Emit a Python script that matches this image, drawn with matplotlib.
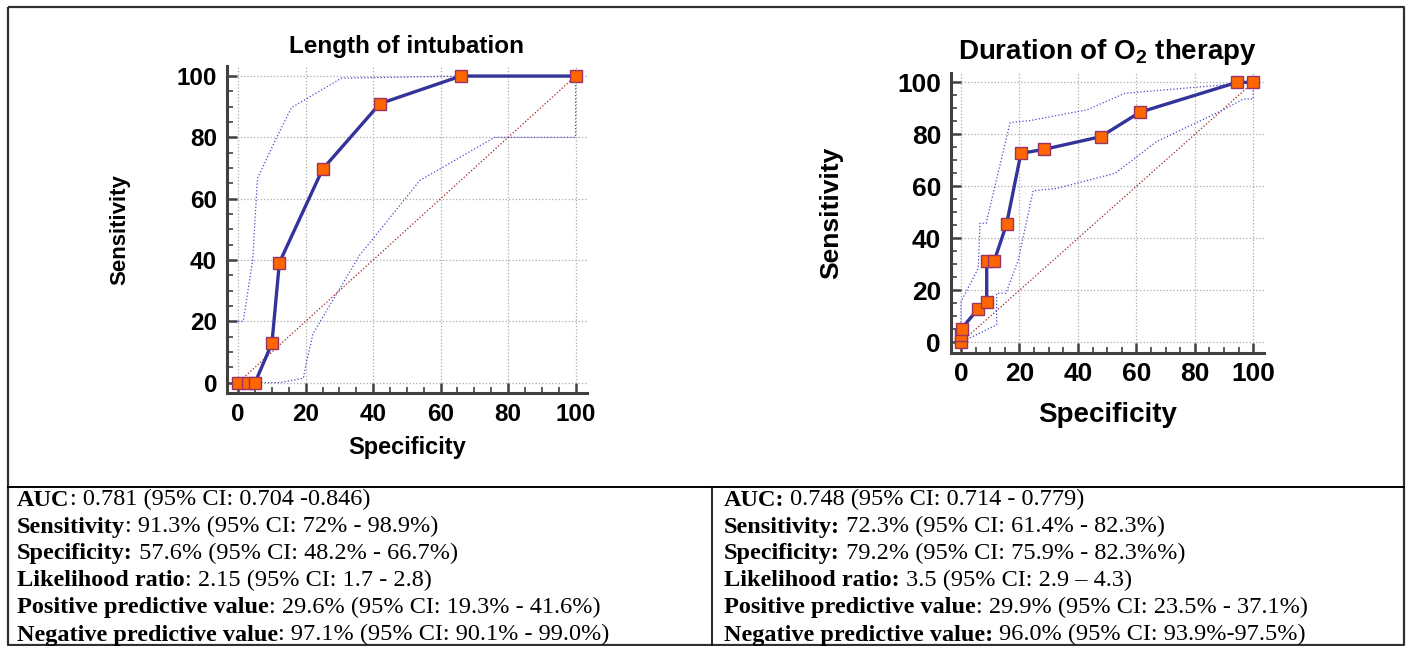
import matplotlib
matplotlib.use("Agg")
import matplotlib.pyplot as plt
from matplotlib.ticker import MultipleLocator

plt.rcParams['font.family'] = ['Liberation Sans', 'DejaVu Sans']
plt.rcParams['mathtext.fontset'] = 'custom'
plt.rcParams['mathtext.rm'] = 'Liberation Sans:bold'
plt.rcParams['mathtext.it'] = 'Liberation Sans:bold'
plt.rcParams['mathtext.default'] = 'rm'

# --- Length of intubation ---
intub_x = [0, 3, 5, 10, 12.2, 25, 42, 66, 100]
intub_y = [0, 0, 0, 12.8, 39.1, 69.6, 91, 100, 100]
intub_up_x = [0, 1.5, 4.3, 5.7, 11.4, 15.8, 30.6, 65.7, 100]
intub_up_y = [20, 20, 40, 66.6, 80, 89.7, 99.3, 100, 100]
intub_lo_x = [0, 12.4, 19.3, 20.3, 22.2, 36, 40, 53.9, 76, 100, 100]
intub_lo_y = [0, 0, 1.4, 7, 16, 41.6, 47, 66, 80, 80, 100]

# --- Duration of O2 therapy ---
o2_x = [0, 0, 0.2, 5.9, 8.8, 8.8, 11.4, 15.6, 20.5, 28.3, 47.8, 61.2, 94.4, 100]
o2_y = [0.3, 2.7, 5.3, 12.9, 15.6, 31.4, 31.4, 45.5, 72.7, 74.2, 79.1, 88.5, 100, 100]
o2_up_x = [0, 0, 5.9, 6.5, 8.6, 16.8, 23.6, 43, 56.1, 100]
o2_up_y = [0, 15.6, 28.5, 45.8, 45.8, 84.5, 85.3, 89.4, 95.8, 100]
o2_lo_x = [0, 12.2, 12.2, 15.4, 19.6, 24.7, 32.7, 52.7, 66.9, 89.7, 96.6, 100, 100]
o2_lo_y = [0, 6.7, 18.9, 18.9, 31.7, 58.3, 59.2, 65, 77.2, 89.4, 93.6, 93.6, 100]

ticks = [0, 20, 40, 60, 80, 100]

left_rows = [
    ("AUC", ": 0.781 (95% CI: 0.704 -0.846)"),
    ("Sensitivity", ": 91.3% (95% CI: 72% - 98.9%)"),
    ("Specificity:", " 57.6% (95% CI: 48.2% - 66.7%)"),
    ("Likelihood ratio", ": 2.15 (95% CI: 1.7 - 2.8)"),
    ("Positive predictive value", ": 29.6% (95% CI: 19.3% - 41.6%)"),
    ("Negative predictive value", ": 97.1% (95% CI: 90.1% - 99.0%)"),
]
right_rows = [
    ("AUC:", " 0.748 (95% CI: 0.714 - 0.779)"),
    ("Sensitivity:", " 72.3% (95% CI: 61.4% - 82.3%)"),
    ("Specificity:", " 79.2% (95% CI: 75.9% - 82.3%%)"),
    ("Likelihood ratio:", " 3.5 (95% CI: 2.9 \u2013 4.3)"),
    ("Positive predictive value", ": 29.9% (95% CI: 23.5% - 37.1%)"),
    ("Negative predictive value:", " 96.0% (95% CI: 93.9%-97.5%)"),
]

W, H = 1410, 646
fig = plt.figure(figsize=(W / 100, H / 100), dpi=100)


def roc_panel(rect, xlim, ylim, x, y, ux, uy, lx, ly, title,
              fs_title, fs_xlab, fs_ylab, fs_tick, pad_t, ylpad, xlpad):
    ax = fig.add_axes(rect)
    ax.plot([0, 100], [0, 100], ls=':', color='#a02020', lw=0.9, zorder=2)
    ax.plot(ux, uy, ls=':', color='#4a4acc', lw=0.9, zorder=2)
    ax.plot(lx, ly, ls=':', color='#4a4acc', lw=0.9, zorder=2)
    ax.plot(x, y, color='#333399', lw=2.4, marker='s', ms=8,
            mfc='#ff6600', mec='#993366', mew=1.0, zorder=3, clip_on=False)
    ax.set_xlim(*xlim)
    ax.set_ylim(*ylim)
    ax.set_xticks(ticks)
    ax.set_yticks(ticks)
    ax.xaxis.set_minor_locator(MultipleLocator(5))
    ax.yaxis.set_minor_locator(MultipleLocator(5))
    ax.grid(True, which='major', ls=':', color='#aaaaaa', lw=0.9)
    for s in ['top', 'right']:
        ax.spines[s].set_visible(False)
    for s in ['left', 'bottom']:
        ax.spines[s].set_color('#404040')
        ax.spines[s].set_linewidth(2.2)
    ax.tick_params(which='major', direction='in', length=7, width=1.8, color='#404040',
                   labelsize=fs_tick, pad=7)
    ax.tick_params(which='minor', direction='in', length=4, width=1.2, color='#404040')
    for lab in ax.get_xticklabels() + ax.get_yticklabels():
        lab.set_fontweight('bold')
    ax.set_xlabel('Specificity', fontsize=fs_xlab, fontweight='bold', labelpad=xlpad)
    ax.set_ylabel('Sensitivity', fontsize=fs_ylab, fontweight='bold', labelpad=ylpad)
    ax.set_title(title, fontsize=fs_title, fontweight='bold', pad=pad_t)
    return ax


roc_panel([0.1608, 0.3912, 0.2553, 0.5067], (-3.4, 103.3), (-3.5, 103.3),
          intub_x, intub_y, intub_up_x, intub_up_y, intub_lo_x, intub_lo_y,
          'Length of intubation', 17.5, 17, 16, 17.5, 9, 33, 7)
roc_panel([0.6743, 0.454, 0.2224, 0.4334], (-3.5, 103.8), (-4, 103.7),
          o2_x, o2_y, o2_up_x, o2_up_y, o2_lo_x, o2_lo_y,
          'Duration of O$_2$ therapy', 20, 20, 19, 19, 10, 39, 11)

# table frame + text in pixel coordinates
tax = fig.add_axes([0, 0, 1, 1], zorder=-1)
tax.set_xlim(0, W)
tax.set_ylim(H, 0)
tax.axis('off')
frame = dict(color='#303030', lw=1.6, solid_capstyle='butt')
tax.plot([8, 1404, 1404, 8, 8], [7, 7, 645, 645, 7], **frame)
tax.plot([8, 1404], [487, 487], color='black', lw=1.4)
tax.plot([712, 712], [487, 645], color='black', lw=1.2)

renderer = fig.canvas.get_renderer()
row_y = [505.5, 532.5, 559.5, 586.5, 613.5, 640.5]
serif = ['Liberation Serif', 'DejaVu Serif']
for x0, rows in [(17, left_rows), (724, right_rows)]:
    for (b, r), yy in zip(rows, row_y):
        t1 = tax.text(x0, yy, b, fontsize=17.5, fontweight='bold', family=serif,
                      va='baseline', ha='left')
        w = t1.get_window_extent(renderer).width
        tax.text(x0 + w, yy, r, fontsize=17.5, family=serif, va='baseline', ha='left')

fig.savefig('out.png', dpi=100)
